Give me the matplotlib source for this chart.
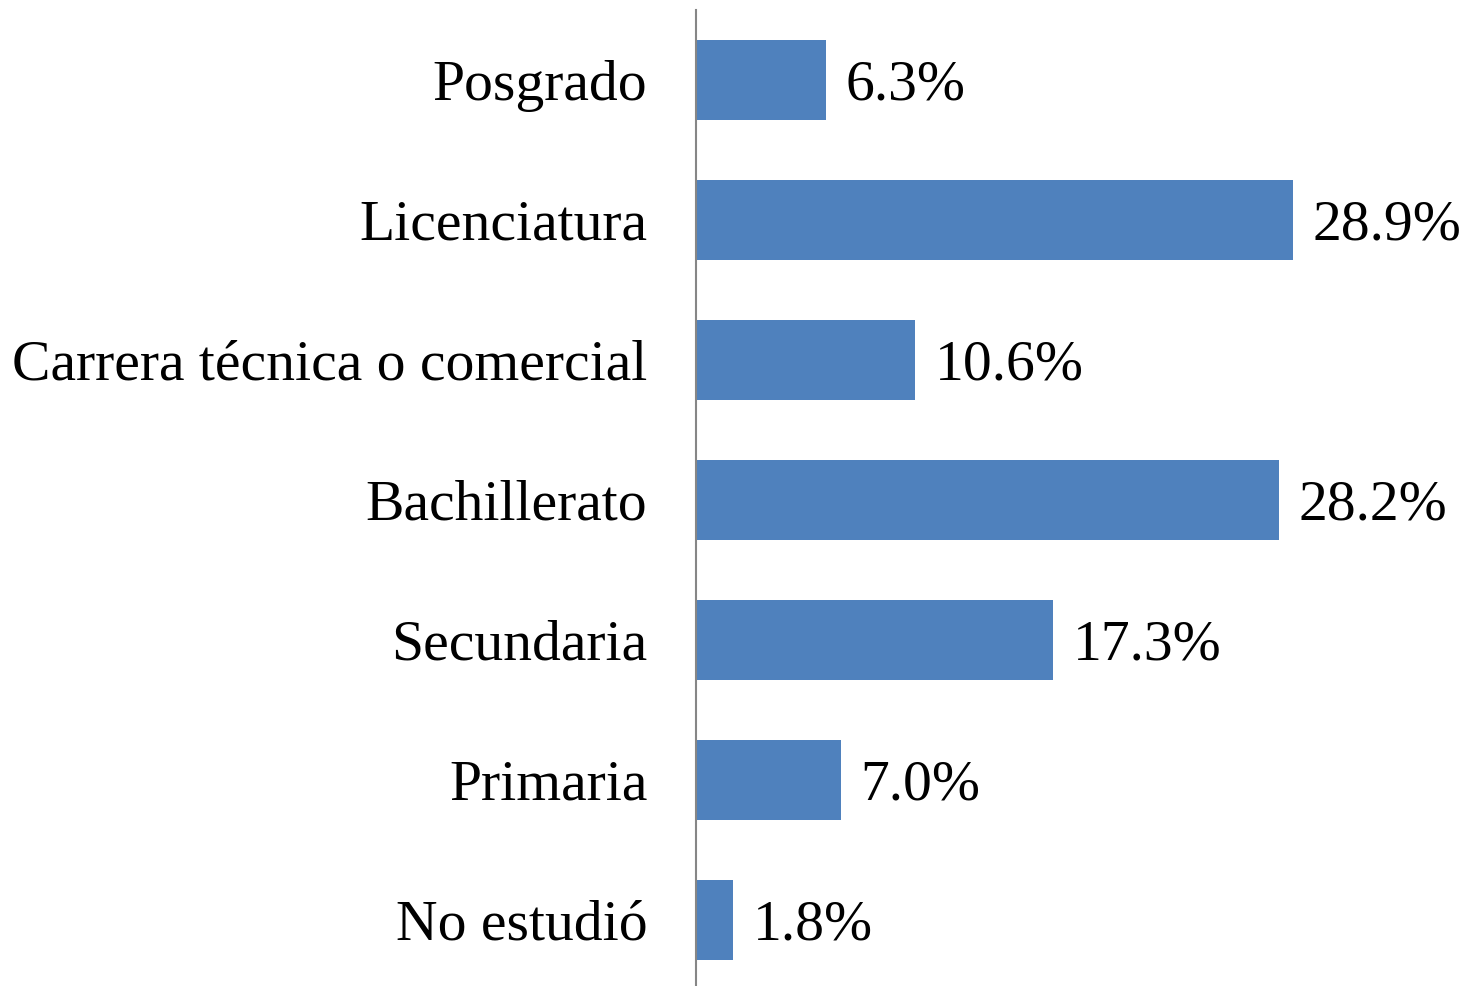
import matplotlib
matplotlib.use("Agg")
import matplotlib.pyplot as plt

categories = ["No estudió", "Primaria", "Secundaria", "Bachillerato",
              "Carrera técnica o comercial", "Licenciatura", "Posgrado"]
values = [1.8, 7.0, 17.3, 28.2, 10.6, 28.9, 6.3]
labels = ["1.8%", "7.0%", "17.3%", "28.2%", "10.6%", "28.9%", "6.3%"]

plt.rcParams["font.family"] = ["Liberation Serif", "DejaVu Serif"]

W, H = 1466, 986
fig = plt.figure(figsize=(W / 100, H / 100), dpi=100)
ax = fig.add_axes([696 / W, -4 / H, (W - 696) / W, 980 / H])

y = range(len(categories))
ax.barh(y, values, height=0.57, color="#4F81BD", zorder=2)
for yi, v, lab in zip(y, values, labels):
    ax.text(v + 0.95, yi, lab, va="center_baseline", ha="left",
            fontsize=41.5, color="black")

ax.set_xlim(0, (W - 696) / 20.66)
ax.set_ylim(-0.5, len(categories) - 0.5)
ax.set_yticks(list(y))
ax.set_yticklabels(categories, fontsize=41.5, va="center_baseline")
ax.tick_params(axis="y", length=0, pad=35)
ax.set_xticks([])
for s in ["top", "right", "bottom"]:
    ax.spines[s].set_visible(False)
ax.spines["left"].set_color("#868686")
ax.spines["left"].set_linewidth(1.5)

fig.savefig("out.png", dpi=100)
